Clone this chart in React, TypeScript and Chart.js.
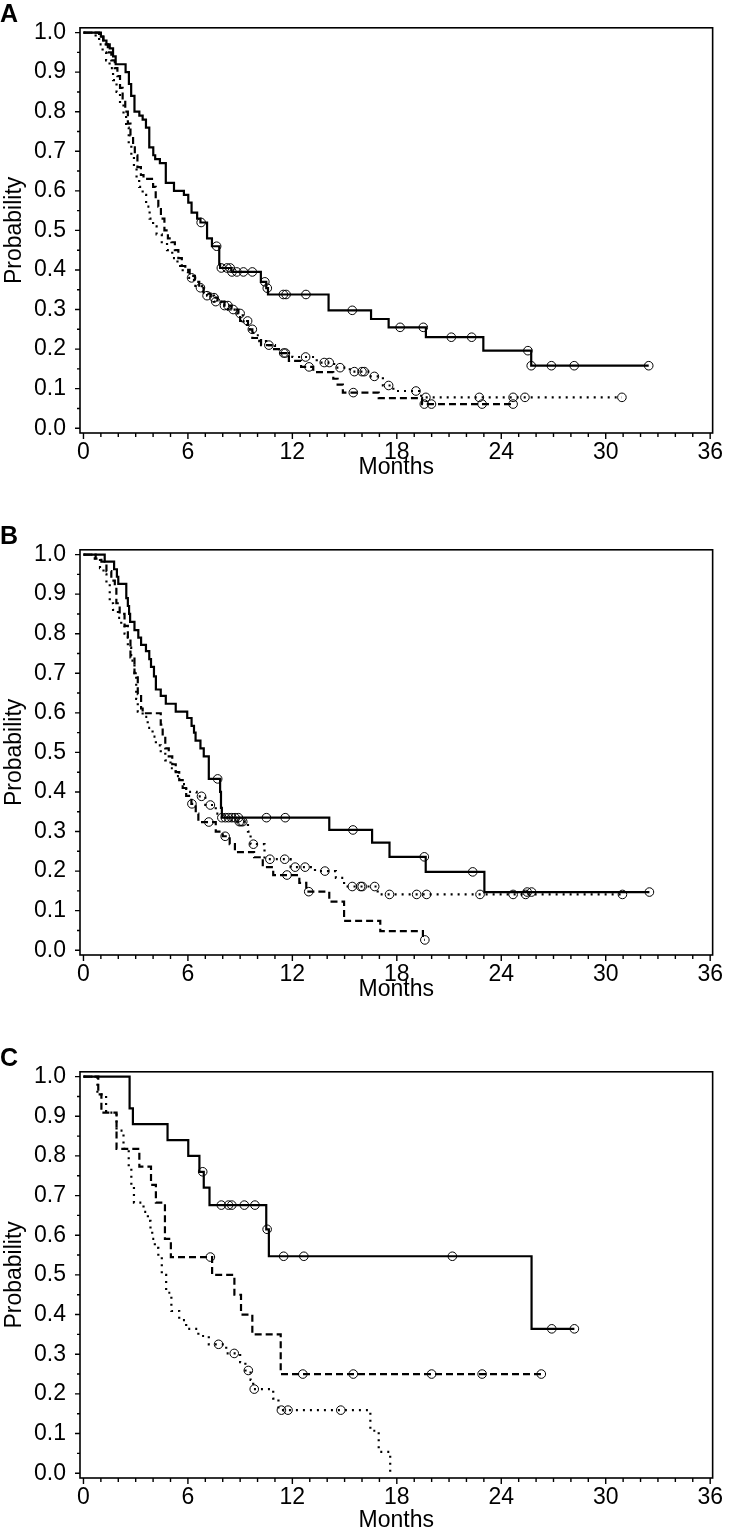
import { useEffect, useRef } from 'react';
import { Chart, registerables } from 'chart.js';

Chart.register(...registerables);

const FONT = '"Liberation Sans", Arial, Helvetica, sans-serif';

const monthTicks = [0, 6, 12, 18, 24, 30, 36];
const probTicks = [0, 0.1, 0.2, 0.3, 0.4, 0.5, 0.6, 0.7, 0.8, 0.9, 1.0];

// ---------- Panel A ----------
const aSolidT = [1.0, 1.13, 1.32, 1.51, 1.7, 1.85, 2.42, 2.61, 2.74, 2.93, 3.21, 3.4, 3.59, 3.78, 4.01, 4.12, 4.39, 4.73, 5.2, 5.77, 6.02, 6.21, 6.53, 6.72, 7.1, 7.38, 7.8, 7.85, 8.5, 10.19, 10.5, 10.6, 14.08, 16.52, 17.53, 19.67, 22.97, 25.72];
const aSolidS = [0.99, 0.98, 0.97, 0.96, 0.94, 0.92, 0.9, 0.87, 0.84, 0.8, 0.79, 0.78, 0.76, 0.71, 0.69, 0.68, 0.67, 0.62, 0.6, 0.59, 0.57, 0.545, 0.53, 0.52, 0.48, 0.46, 0.415, 0.405, 0.395, 0.37, 0.354, 0.338, 0.298, 0.276, 0.255, 0.23, 0.196, 0.158];
const aSolidC = [6.76, 7.65, 7.92, 8.24, 8.43, 8.53, 8.81, 9.19, 9.7, 10.42, 10.56, 11.48, 11.64, 12.78, 15.44, 18.19, 19.52, 21.13, 22.3, 25.53, 25.72, 26.88, 28.19, 32.47];

const aDashT = [0.9, 1.15, 1.4, 1.6, 1.8, 1.95, 2.1, 2.25, 2.4, 2.55, 2.7, 2.85, 2.95, 3.1, 3.3, 3.45, 4.0, 4.15, 4.3, 4.45, 4.65, 4.85, 5.05, 5.25, 5.45, 5.65, 5.85, 6.1, 6.4, 6.65, 6.9, 7.3, 7.7, 8.1, 8.5, 8.9, 9.0, 9.45, 9.7, 10.2, 10.8, 11.3, 11.8, 12.5, 13.2, 14.35, 14.6, 14.9, 16.96, 19.45];
const aDashS = [0.99, 0.97, 0.95, 0.93, 0.91, 0.89, 0.86, 0.83, 0.8, 0.77, 0.74, 0.71, 0.69, 0.66, 0.64, 0.63, 0.61, 0.58, 0.56, 0.53, 0.5, 0.48, 0.47, 0.45, 0.43, 0.41, 0.4, 0.385, 0.37, 0.355, 0.34, 0.33, 0.32, 0.31, 0.3, 0.285, 0.271, 0.25, 0.228, 0.21, 0.2, 0.19, 0.17, 0.155, 0.142, 0.125, 0.11, 0.09, 0.076, 0.061];
const aDashC = [6.72, 7.5, 8.3, 9.43, 11.6, 12.96, 15.5, 19.58, 19.99, 22.9, 24.68];

const aDotT = [0.7, 0.9, 1.1, 1.3, 1.5, 1.7, 1.9, 2.1, 2.3, 2.45, 2.6, 2.75, 2.9, 3.05, 3.2, 3.4, 3.6, 3.8, 4.0, 4.2, 4.5, 4.8, 5.1, 5.4, 5.7, 6.0, 6.35, 6.8, 7.1, 7.5, 7.9, 8.3, 8.8, 9.15, 9.4, 9.75, 10.1, 10.5, 11.0, 11.4, 12.0, 13.4, 14.4, 15.3, 16.5, 17.2, 17.8, 19.4];
const aDotS = [0.99, 0.97, 0.95, 0.93, 0.91, 0.88, 0.85, 0.82, 0.79, 0.76, 0.72, 0.69, 0.66, 0.63, 0.61, 0.59, 0.56, 0.53, 0.51, 0.49, 0.47, 0.45, 0.43, 0.41, 0.395, 0.38, 0.36, 0.345, 0.335, 0.32, 0.31, 0.3, 0.29, 0.27, 0.25, 0.235, 0.22, 0.21, 0.2, 0.19, 0.18, 0.166, 0.153, 0.143, 0.131, 0.108, 0.094, 0.078];
const aDotC = [6.21, 7.1, 7.6, 8.1, 8.6, 9.0, 9.7, 10.65, 11.5, 12.76, 13.83, 14.12, 14.74, 15.56, 16.0, 16.13, 16.71, 17.53, 19.1, 19.67, 22.74, 24.68, 25.36, 30.93];

// ---------- Panel B ----------
const bSolidT = [1.22, 1.76, 1.92, 2.0, 2.46, 2.55, 2.62, 2.68, 2.93, 3.15, 3.31, 3.59, 3.78, 3.88, 4.05, 4.16, 4.44, 4.73, 5.3, 5.96, 6.21, 6.35, 6.44, 6.72, 6.91, 7.2, 7.85, 7.9, 7.95, 14.12, 16.58, 17.58, 19.66, 23.03];
const bSolidS = [0.982, 0.963, 0.944, 0.926, 0.89, 0.87, 0.85, 0.83, 0.809, 0.79, 0.772, 0.756, 0.736, 0.716, 0.692, 0.659, 0.643, 0.623, 0.603, 0.587, 0.567, 0.55, 0.53, 0.51, 0.49, 0.433, 0.4, 0.36, 0.335, 0.304, 0.272, 0.236, 0.198, 0.147];
const bSolidC = [7.71, 7.95, 8.15, 8.33, 8.52, 8.71, 8.9, 10.51, 11.59, 15.48, 19.58, 22.36, 25.49, 25.74, 32.51];

const bDashT = [0.7, 1.03, 1.32, 1.6, 1.8, 1.89, 2.08, 2.36, 2.55, 2.7, 2.93, 3.12, 3.31, 3.4, 4.44, 4.55, 4.7, 4.9, 5.1, 5.3, 5.5, 5.7, 5.9, 6.2, 6.45, 6.6, 7.6, 8.0, 8.4, 8.7, 9.8, 10.3, 10.9, 12.4, 12.8, 14.12, 14.97, 17.05, 19.5];
const bDashS = [0.99, 0.982, 0.958, 0.934, 0.92, 0.877, 0.85, 0.82, 0.79, 0.74, 0.7, 0.647, 0.611, 0.599, 0.57, 0.54, 0.51, 0.49, 0.47, 0.45, 0.43, 0.41, 0.39, 0.37, 0.345, 0.324, 0.3, 0.288, 0.268, 0.248, 0.235, 0.21, 0.19, 0.17, 0.148, 0.123, 0.074, 0.048, 0.026];
const bDashC = [6.23, 7.2, 8.14, 11.69, 12.94, 19.61];

const bDotT = [0.65, 0.95, 1.15, 1.32, 1.51, 1.7, 1.98, 2.17, 2.36, 2.55, 2.74, 2.93, 3.03, 3.12, 3.4, 3.69, 3.97, 4.16, 4.44, 4.7, 5.0, 5.3, 5.6, 5.9, 6.5, 7.0, 7.6, 8.0, 8.5, 9.45, 9.6, 10.4, 11.9, 13.3, 14.5, 14.97, 16.9];
const bDotS = [0.99, 0.966, 0.95, 0.926, 0.877, 0.86, 0.84, 0.82, 0.8, 0.765, 0.732, 0.7, 0.635, 0.603, 0.59, 0.562, 0.54, 0.518, 0.5, 0.48, 0.46, 0.44, 0.42, 0.4, 0.389, 0.367, 0.345, 0.335, 0.325, 0.3, 0.268, 0.23, 0.21, 0.2, 0.183, 0.161, 0.141];
const bDotC = [6.78, 7.29, 8.95, 9.05, 9.15, 9.76, 10.71, 11.56, 12.16, 12.73, 13.87, 15.44, 15.92, 16.01, 16.73, 17.58, 19.14, 19.71, 22.78, 24.68, 25.4, 30.96];

// ---------- Panel C ----------
const cSolidT = [2.65, 2.84, 4.83, 6.02, 6.66, 6.91, 7.24, 10.5, 10.65, 25.74];
const cSolidS = [0.92, 0.88, 0.84, 0.8, 0.76, 0.72, 0.676, 0.615, 0.547, 0.364];
const cSolidC = [6.85, 7.92, 8.33, 8.52, 9.24, 9.85, 10.55, 11.5, 12.66, 21.19, 26.9, 28.2];

const cDashT = [0.85, 1.03, 1.9, 3.21, 3.88, 4.16, 4.68, 5.02, 7.39, 8.67, 9.05, 9.7, 11.33];
const cDashS = [0.955, 0.909, 0.818, 0.773, 0.727, 0.682, 0.591, 0.545, 0.5, 0.45, 0.4, 0.35, 0.25];
const cDashC = [7.29, 12.6, 15.5, 20.0, 22.9, 26.3];

const cDotT = [0.8, 1.3, 1.9, 2.3, 2.6, 2.75, 2.9, 3.45, 3.7, 3.85, 3.95, 4.1, 4.3, 4.5, 4.75, 5.05, 5.5, 5.9, 6.6, 7.2, 8.2, 9.0, 9.3, 9.6, 9.75, 10.9, 11.2, 16.48, 16.96, 17.62];
const cDotS = [0.955, 0.909, 0.864, 0.818, 0.773, 0.727, 0.682, 0.659, 0.636, 0.614, 0.591, 0.568, 0.545, 0.5, 0.455, 0.409, 0.386, 0.364, 0.346, 0.325, 0.302, 0.28, 0.259, 0.235, 0.212, 0.188, 0.159, 0.107, 0.054, 0.0];
const cDotC = [7.76, 8.66, 9.47, 9.81, 11.37, 11.75, 14.78];

type Pt = { x: number; y: number };

function survAt(times: number[], surv: number[], t: number): number {
  let s = 1;
  for (let i = 0; i < times.length; i++) if (times[i] <= t) s = surv[i];
  return s;
}

function stepPoints(times: number[], surv: number[], cens: number[]): Pt[] {
  const pts: Pt[] = [{ x: 0, y: 1 }];
  times.forEach((t, i) => pts.push({ x: t, y: surv[i] }));
  const lastT = Math.max(times[times.length - 1], ...cens);
  const last = pts[pts.length - 1];
  if (lastT > last.x) pts.push({ x: lastT, y: last.y });
  return pts;
}

function censorPoints(times: number[], surv: number[], cens: number[]): Pt[] {
  return cens.map((c) => ({ x: c, y: survAt(times, surv, c) }));
}

const DASHES: Record<string, number[]> = { solid: [], dash: [7, 4], dot: [2, 5] };

function groupDatasets(times: number[], surv: number[], cens: number[], style: string) {
  return [
    {
      type: 'scatter' as const,
      data: stepPoints(times, surv, cens),
      showLine: true,
      stepped: 'before' as const,
      borderColor: '#000',
      borderWidth: 2.2,
      borderDash: DASHES[style],
      pointRadius: 0,
      fill: false,
    },
    {
      type: 'scatter' as const,
      data: censorPoints(times, surv, cens),
      showLine: false,
      pointStyle: 'circle' as const,
      pointRadius: 4.3,
      pointBorderWidth: 1,
      pointBorderColor: '#000',
      pointBackgroundColor: 'rgba(0,0,0,0)',
    },
  ];
}

type PanelProps = {
  letter: string;
  top: number;
  height: number;
  plotBottom: number;
  titlePad: number;
  groups: { t: number[]; s: number[]; c: number[]; style: string }[];
};

function Panel({ letter, top, height, plotBottom, titlePad, groups }: PanelProps) {
  const ref = useRef<HTMLCanvasElement | null>(null);
  useEffect(() => {
    if (!ref.current) return;
    const datasets = groups.flatMap((g) => groupDatasets(g.t, g.s, g.c, g.style));
    const framePlugin = {
      id: 'frame' + letter,
      afterDraw(chart: any) {
        const { ctx, chartArea } = chart;
        const { left, right, top: t, bottom } = chartArea;
        const xs = chart.scales.x;
        const ys = chart.scales.y;
        ctx.save();
        ctx.strokeStyle = '#000';
        ctx.lineWidth = 1.6;
        ctx.strokeRect(left, t, right - left, bottom - t);
        ctx.lineWidth = 1.4;
        ctx.beginPath();
        for (let m = 0; m <= 36; m++) {
          const px = xs.getPixelForValue(m);
          const len = m % 6 === 0 ? 6 : 4;
          ctx.moveTo(px, bottom);
          ctx.lineTo(px, bottom + len);
        }
        for (let k = 0; k <= 20; k++) {
          const py = ys.getPixelForValue(k * 0.05);
          const len = k % 2 === 0 ? 5 : 3;
          ctx.moveTo(left - len, py);
          ctx.lineTo(left, py);
        }
        ctx.stroke();
        ctx.fillStyle = '#000';
        ctx.font = 'bold 25px ' + FONT;
        ctx.textBaseline = 'alphabetic';
        ctx.textAlign = 'left';
        ctx.fillText(letter, 0, 22);
        ctx.restore();
      },
    };
    const chart = new Chart(ref.current, {
      type: 'scatter',
      data: { datasets: datasets as any },
      options: {
        responsive: false,
        animation: false,
        events: [],
        layout: { padding: { top: 10, right: 10, left: 0, bottom: 0 } },
        plugins: { legend: { display: false }, tooltip: { enabled: false } },
        scales: {
          x: {
            type: 'linear',
            min: -0.199,
            max: 36.142,
            afterBuildTicks: (s: any) => {
              s.ticks = monthTicks.map((v) => ({ value: v }));
            },
            afterFit: (s: any) => {
              s.height = height - plotBottom;
            },
            grid: { display: false, drawTicks: false },
            border: { display: false },
            ticks: { padding: 6, maxRotation: 0, autoSkip: false, color: '#000', font: { size: 23, family: FONT } },
            title: {
              display: true,
              text: 'Months',
              color: '#000',
              font: { size: 23, family: FONT },
              padding: { top: 0, bottom: titlePad },
            },
          },
          y: {
            type: 'linear',
            min: -0.0121,
            max: 1.0121,
            afterBuildTicks: (s: any) => {
              s.ticks = probTicks.map((v) => ({ value: v }));
            },
            afterFit: (s: any) => {
              s.width = 80;
            },
            grid: { display: false, drawTicks: false },
            border: { display: false },
            ticks: {
              padding: 14,
              autoSkip: false,
              color: '#000',
              font: { size: 23, family: FONT },
              callback: (v: any) => Number(v).toFixed(1),
            },
            title: {
              display: true,
              text: 'Probability',
              color: '#000',
              font: { size: 23, family: FONT },
              padding: { top: 1, bottom: 0 },
            },
          },
        },
      },
      plugins: [framePlugin],
    });
    return () => chart.destroy();
  }, []);
  return (
    <canvas
      ref={ref}
      width={729}
      height={height}
      style={{ position: 'absolute', left: 0, top, width: 729, height, display: 'block' }}
    />
  );
}

export default function App() {
  return (
    <div style={{ position: 'absolute', left: 0, top: 0, width: 729, height: 1534, background: '#fff', overflow: 'hidden' }}>
      <Panel
        letter="A"
        top={0}
        height={522}
        plotBottom={433}
        titlePad={41}
        groups={[
          { t: aSolidT, s: aSolidS, c: aSolidC, style: 'solid' },
          { t: aDashT, s: aDashS, c: aDashC, style: 'dash' },
          { t: aDotT, s: aDotS, c: aDotC, style: 'dot' },
        ]}
      />
      <Panel
        letter="B"
        top={522}
        height={522}
        plotBottom={433}
        titlePad={41}
        groups={[
          { t: bSolidT, s: bSolidS, c: bSolidC, style: 'solid' },
          { t: bDashT, s: bDashS, c: bDashC, style: 'dash' },
          { t: bDotT, s: bDotS, c: bDotC, style: 'dot' },
        ]}
      />
      <Panel
        letter="C"
        top={1044}
        height={490}
        plotBottom={434}
        titlePad={0}
        groups={[
          { t: cSolidT, s: cSolidS, c: cSolidC, style: 'solid' },
          { t: cDashT, s: cDashS, c: cDashC, style: 'dash' },
          { t: cDotT, s: cDotS, c: cDotC, style: 'dot' },
        ]}
      />
    </div>
  );
}
